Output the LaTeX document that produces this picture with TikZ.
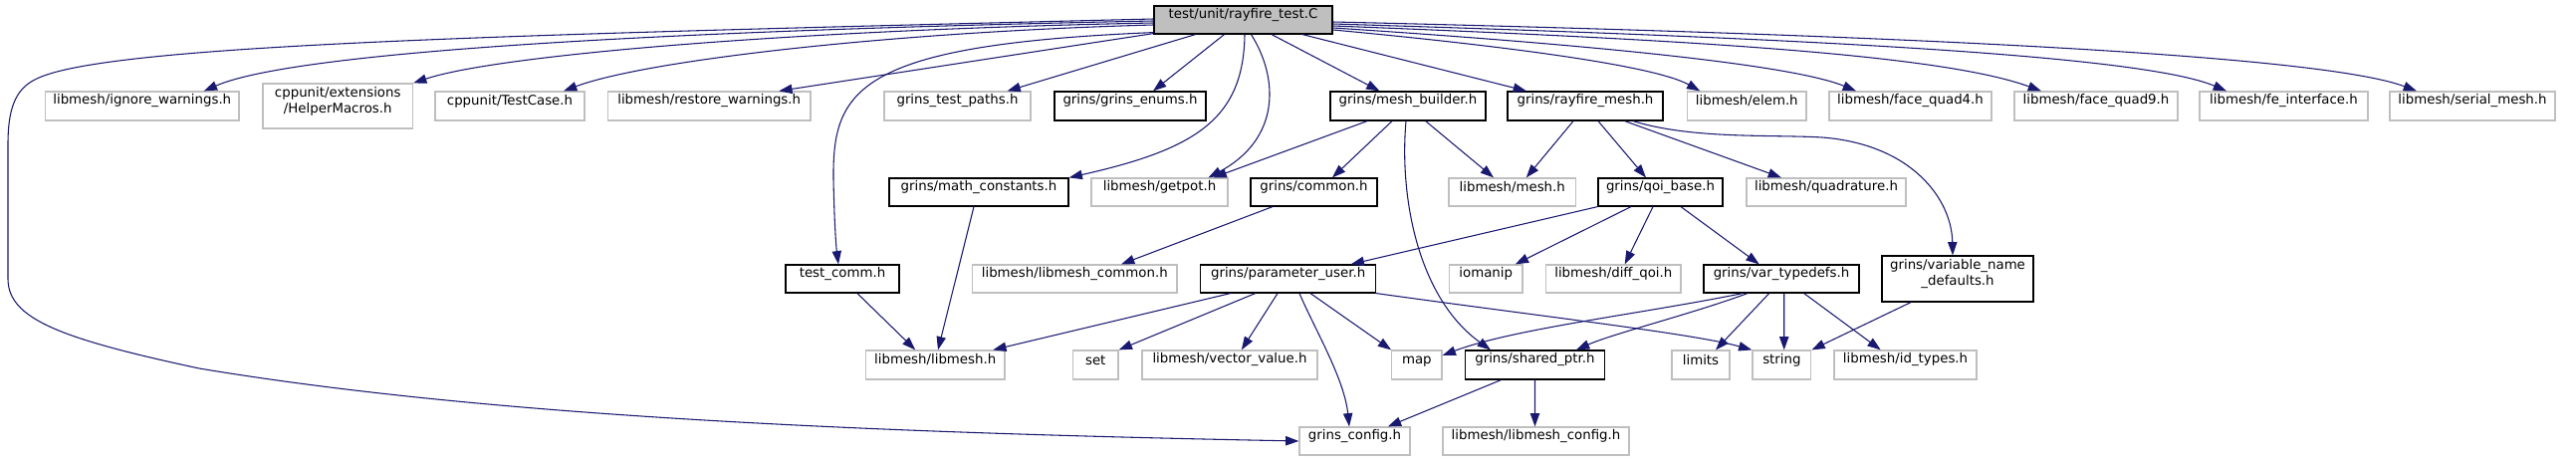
\documentclass[tikz,border=0pt]{standalone}
\usepackage{fontspec}
\setmainfont{DejaVu Sans}
\usetikzlibrary{arrows.meta,fit,calc}
\definecolor{edgec}{HTML}{191970}
\definecolor{greyb}{HTML}{BFBFBF}
\newcommand\nd[7]{\node[#6,fit={(#2,#3)(#4,#5)}] (#1) {#7};}
\begin{document}
\begin{tikzpicture}[x=0.75pt,y=-0.75pt, font=\fontsize{10}{12}\selectfont,
 nb/.style={draw=black, line width=0.9pt, inner sep=0pt, align=center},
 ng/.style={draw=greyb, line width=0.9pt, inner sep=0pt, align=center},
 nr/.style={draw=black, fill=greyb, line width=0.9pt, inner sep=0pt, align=center},
 ed/.style={draw=edgec, line width=0.8pt, -{Triangle[length=10pt,width=7pt]}}]
\useasboundingbox[fill=white] (0,0) rectangle (2587,464);

\nd{root}{1159}{6}{1338}{34}{nr}{test/unit/rayfire\_test.C}
\nd{ignore}{45.5}{92}{240}{121}{ng}{libmesh/ignore\_warnings.h}
\nd{helper}{264}{84}{414.5}{129}{ng}{cppunit/extensions\\/HelperMacros.h}
\nd{testcase}{437}{92}{587}{121}{ng}{cppunit/TestCase.h}
\nd{restore}{610.4}{92}{814}{121}{ng}{libmesh/restore\_warnings.h}
\nd{testpaths}{888}{92}{1035}{121}{ng}{grins\_test\_paths.h}
\nd{enums}{1059}{92}{1211}{121}{nb}{grins/grins\_enums.h}
\nd{meshbuilder}{1336}{92}{1492}{121}{nb}{grins/mesh\_builder.h}
\nd{rayfiremesh}{1514}{92}{1670}{121}{nb}{grins/rayfire\_mesh.h}
\nd{elem}{1694.6}{92}{1814}{121}{ng}{libmesh/elem.h}
\nd{quad4}{1837}{92}{2000}{121}{ng}{libmesh/face\_quad4.h}
\nd{quad9}{2023}{92}{2187}{121}{ng}{libmesh/face\_quad9.h}
\nd{feint}{2209}{92}{2378}{121}{ng}{libmesh/fe\_interface.h}
\nd{serial}{2400}{92}{2566}{121}{ng}{libmesh/serial\_mesh.h}
\nd{mathc}{893}{179}{1073}{207}{nb}{grins/math\_constants.h}
\nd{getpot}{1096}{179}{1233}{207}{ng}{libmesh/getpot.h}
\nd{common}{1256}{179}{1383}{207}{nb}{grins/common.h}
\nd{mesh}{1455}{179}{1582.5}{207}{ng}{libmesh/mesh.h}
\nd{qoibase}{1605}{179}{1730}{207}{nb}{grins/qoi\_base.h}
\nd{quadrature}{1754}{179}{1914}{207}{ng}{libmesh/quadrature.h}
\nd{testcomm}{789}{266}{903}{294}{nb}{test\_comm.h}
\nd{lmcommon}{976.5}{266}{1182}{294}{ng}{libmesh/libmesh\_common.h}
\nd{paramuser}{1205.7}{266}{1381.6}{294}{nb}{grins/parameter\_user.h}
\nd{iomanip}{1455.4}{266}{1529}{294}{ng}{iomanip}
\nd{diffqoi}{1552.6}{266}{1688}{294}{ng}{libmesh/diff\_qoi.h}
\nd{vartypedefs}{1711}{266}{1867}{294}{nb}{grins/var\_typedefs.h}
\nd{varnamedef}{1890}{257}{2042}{303}{nb}{grins/variable\_name\\\_defaults.h}
\nd{libmesh}{869.4}{352}{1009}{381}{ng}{libmesh/libmesh.h}
\nd{set}{1077.5}{352}{1123}{381}{ng}{set}
\nd{vectorvalue}{1147}{352}{1323}{381}{ng}{libmesh/vector\_value.h}
\nd{map}{1397.7}{352}{1448}{381}{ng}{map}
\nd{sharedptr}{1471.5}{352}{1611.4}{381}{nb}{grins/shared\_ptr.h}
\nd{limits}{1679}{352}{1737}{381}{ng}{limits}
\nd{string}{1760}{352}{1818.8}{381}{ng}{string}
\nd{idtypes}{1842}{352}{1985}{381}{ng}{libmesh/id\_types.h}
\nd{grinsconfig}{1305}{429}{1416}{457}{ng}{grins\_config.h}
\nd{lmconfig}{1449}{429}{1636}{457}{ng}{libmesh/libmesh\_config.h}

% root edges
\draw[ed] ($(root.west)+(0,1)$) .. controls (700,30) and (300,50) .. ($(ignore.north)+(62,0)$);
\draw[ed] ($(root.west)+(0,3)$) .. controls (800,30) and (500,55) .. (helper.north east);
\draw[ed] ($(root.west)+(0,5)$) .. controls (900,32) and (650,60) .. ($(testcase.north)+(54,0)$);
\draw[ed] ($(root.south west)+(0,-1)$) -- ($(restore.north)+(70,0)$);
\draw[ed] ($(root.south)+(-48,0)$) -- ($(testpaths.north)+(50,0)$);
\draw[ed] ($(root.south)+(-19,0)$) -- ($(enums.north)+(23,0)$);
\draw[ed] ($(root.south)+(28.5,0)$) -- ($(meshbuilder.north)+(-28.5,0)$);
\draw[ed] ($(root.south)+(59.5,0)$) -- ($(rayfiremesh.north)+(-59,0)$);
\draw[ed] ($(root.east)+(0,10)$) .. controls (1500,45) and (1660,65) .. ($(elem.north)+(-47,0)$);
\draw[ed] ($(root.east)+(0,8)$) .. controls (1600,45) and (1800,65) .. ($(quad4.north)+(-54.5,0)$);
\draw[ed] ($(root.east)+(0,6)$) .. controls (1700,40) and (1950,55) .. ($(quad9.north)+(-55,0)$);
\draw[ed] ($(root.east)+(0,4)$) .. controls (1800,38) and (2150,55) .. ($(feint.north)+(-57.5,0)$);
\draw[ed] ($(root.east)+(0,2)$) .. controls (1900,35) and (2330,55) .. ($(serial.north)+(-56,0)$);
\draw[ed] ($(root.west)+(0,-1)$) .. controls (500,35) and (100,45) .. (35,80) .. controls (15,90) and (8,110) .. (8,145) -- (8,280) .. controls (8,320) and (60,340) .. (200,370) .. controls (500,420) and (900,435) .. (grinsconfig.west);
\draw[ed] ($(root.south west)+(0,-2)$) .. controls (860,45) and (836,90) .. (837,180) .. controls (838,230) and (840,250) .. ($(testcomm.north)+(-4,0)$);
\draw[ed] ($(root.south)+(1.5,0)$) .. controls (1249,120) and (1200,150) .. (mathc.north east);
\draw[ed] ($(root.south)+(8,0)$) .. controls (1285,80) and (1285,140) .. ($(getpot.north)+(49,0)$);

% row 1 -> row 2
\draw[ed] ($(meshbuilder.south)+(-41,0)$) -- ($(getpot.north)+(54,0)$);
\draw[ed] ($(meshbuilder.south)+(-16,0)$) -- ($(common.north)+(18.5,0)$);
\draw[ed] ($(meshbuilder.south)+(17.7,0)$) -- ($(mesh.north)+(-18.75,0)$);
\draw[ed] ($(meshbuilder.south)+(-2,0)$) .. controls (1405,200) and (1425,300) .. ($(sharedptr.north)+(-44.5,0)$);
\draw[ed] ($(rayfiremesh.south)+(-12,0)$) -- ($(mesh.north)+(14,0)$);
\draw[ed] ($(rayfiremesh.south)+(13,0)$) -- ($(qoibase.north)+(-14.5,0)$);
\draw[ed] ($(rayfiremesh.south)+(39.7,0)$) -- ($(quadrature.north)+(-45,0)$);
\draw[ed] ($(rayfiremesh.south)+(48,0)$) .. controls (1700,140) and (1780,135) .. (1830,138) .. controls (1920,145) and (1960,200) .. ($(varnamedef.north)+(-5,0)$);

% row 2 -> row 3
\draw[ed] ($(mathc.south)+(-5,0)$) -- ($(libmesh.north)+(2.8,0)$);
\draw[ed] ($(common.south)+(-41.5,0)$) -- ($(lmcommon.north)+(46.75,0)$);
\draw[ed] ($(testcomm.south)+(15,0)$) -- ($(libmesh.north)+(-20,0)$);
\draw[ed] (qoibase.south west) -- ($(paramuser.north)+(63,0)$);
\draw[ed] ($(qoibase.south)+(-29.5,0)$) -- ($(iomanip.north)+(29.5,0)$);
\draw[ed] ($(qoibase.south)+(-7.5,0)$) -- ($(diffqoi.north)+(11.4,0)$);
\draw[ed] ($(qoibase.south)+(20.5,0)$) -- ($(vartypedefs.north)+(-22.3,0)$);

% row 3 -> row 4
\draw[ed] ($(paramuser.south)+(-58,0)$) -- ($(libmesh.north)+(58,0)$);
\draw[ed] ($(paramuser.south)+(-33,0)$) -- (set.north east);
\draw[ed] ($(paramuser.south)+(-10.65,0)$) -- ($(vectorvalue.north)+(11.8,0)$);
\draw[ed] ($(paramuser.south)+(22.35,0)$) -- (map.north west);
\draw[ed] ($(paramuser.south)+(11.35,0)$) .. controls (1320,330) and (1350,380) .. ($(grinsconfig.north)+(-5.5,0)$);
\draw[ed] (paramuser.south east) .. controls (1550,318) and (1700,335) .. (string.north west);
\draw[ed] ($(vartypedefs.south)+(-39,0)$) .. controls (1650,315) and (1520,330) .. ($(map.east)+(0,-9.5)$);
\draw[ed] ($(vartypedefs.south)+(-34,0)$) .. controls (1700,315) and (1620,335) .. ($(sharedptr.north)+(41.5,0)$);
\draw[ed] ($(vartypedefs.south)+(-12.3,0)$) -- ($(limits.north)+(15,0)$);
\draw[ed] ($(vartypedefs.south)+(2.7,0)$) -- ($(string.north)+(2.3,0)$);
\draw[ed] ($(vartypedefs.south)+(22.7,0)$) -- ($(idtypes.north)+(-24.8,0)$);
\draw[ed] ($(varnamedef.south)+(-47,0)$) -- (string.north east);
\draw[ed] ($(sharedptr.south)+(-34,0)$) -- ($(grinsconfig.north)+(33.3,0)$);
\draw[ed] (sharedptr.south) -- ($(lmconfig.north)+(-1,0)$);
\end{tikzpicture}
\end{document}
